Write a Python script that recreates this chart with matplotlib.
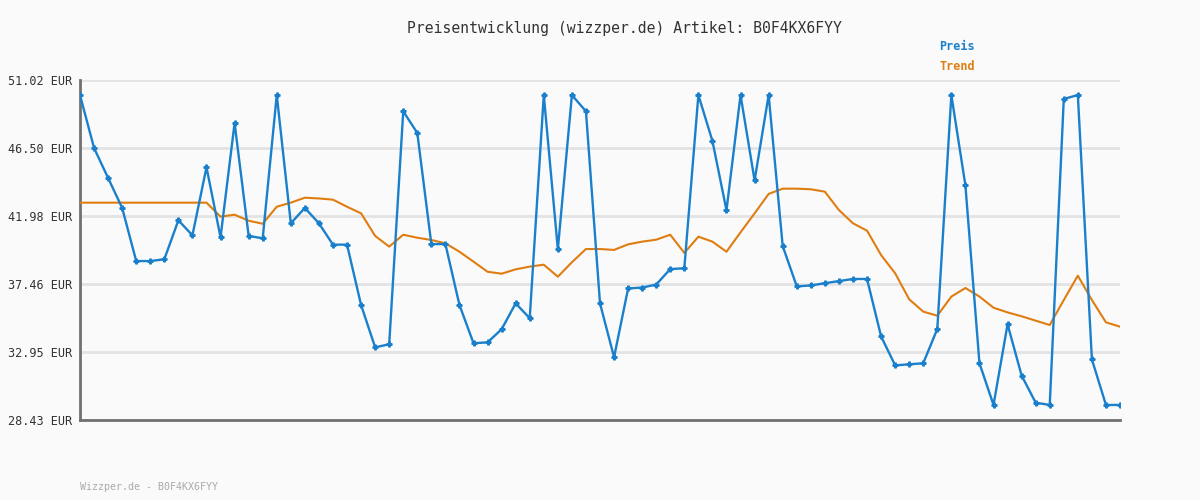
import matplotlib
matplotlib.use("Agg")
import matplotlib.pyplot as plt

# price values
preis = [50.02, 46.50, 44.51, 42.52, 38.99, 38.99, 39.11, 41.70, 40.70, 45.22,
         40.57, 48.16, 40.66, 40.50, 50.02, 41.50, 42.52, 41.50, 40.08, 40.08,
         36.07, 33.26, 33.46, 48.94, 47.50, 40.12, 40.12, 36.07, 33.53, 33.59,
         34.46, 36.18, 35.19, 50.02, 39.77, 50.02, 48.94, 36.18, 32.60, 37.17,
         37.23, 37.43, 38.46, 38.51, 50.02, 46.97, 42.36, 50.02, 44.35, 50.02,
         39.99, 37.31, 37.37, 37.52, 37.66, 37.80, 37.80, 33.99, 32.06, 32.13,
         32.20, 34.48, 50.02, 44.02, 32.20, 29.43, 34.79, 31.38, 29.58, 29.43,
         49.76, 50.02, 32.46, 29.43, 29.43]

trend = [42.87, 42.87, 42.87, 42.87, 42.87, 42.87, 42.87, 42.87, 42.87, 42.87,
         41.94, 42.07, 41.67, 41.47, 42.60, 42.87, 43.20, 43.15, 43.07, 42.60,
         42.16, 40.66, 39.95, 40.74, 40.54, 40.39, 40.17, 39.61, 38.95, 38.28,
         38.15, 38.44, 38.62, 38.75, 37.95, 38.91, 39.79, 39.79, 39.73, 40.10,
         40.28, 40.41, 40.74, 39.53, 40.61, 40.28, 39.61, 40.90, 42.16, 43.45,
         43.80, 43.80, 43.76, 43.60, 42.38, 41.50, 41.01, 39.39, 38.18, 36.45,
         35.63, 35.36, 36.63, 37.20, 36.63, 35.89, 35.58, 35.32, 35.03, 34.74,
         36.40, 38.02, 36.40, 34.92, 34.63]

yticks = [28.43, 32.95, 37.46, 41.98, 46.50, 51.02]
artikel = "B0F4KX6FYY"

blue = "#1a80cc"
orange = "#e07d10"
bg = "#fafafa"
mono = "DejaVu Sans Mono"

fig = plt.figure(figsize=(12, 5), dpi=100, facecolor=bg)
ax = fig.add_axes([80 / 1200, 80 / 500, 1040 / 1200, 340 / 500], facecolor=bg)

x = list(range(len(preis)))
ax.plot(x, trend, color=orange, lw=1.5, zorder=3)
ax.plot(x, preis, color=blue, lw=1.7, marker="P", ms=3.5, zorder=4)

ax.set_xlim(0, len(preis) - 1)
ax.set_ylim(yticks[0], yticks[-1])
ax.set_yticks(yticks)
ax.set_yticklabels([f"{v:.2f} EUR" for v in yticks], fontfamily=mono,
                   fontsize=8.5, color="#333333")
ax.set_xticks([])
ax.tick_params(axis="y", length=0, pad=6)
ax.grid(axis="y", color="#e3e3e3", lw=2, zorder=0)

for side in ["top", "right"]:
    ax.spines[side].set_visible(False)
for side in ["left", "bottom"]:
    ax.spines[side].set_color("#707070")
    ax.spines[side].set_linewidth(2)

fig.text(624 / 1200, 1 - 28 / 500, f"Preisentwicklung (wizzper.de) Artikel: {artikel}",
         ha="center", va="center", fontfamily=mono, fontsize=10.6, color="#333333")
fig.text(957 / 1200, 1 - 47 / 500, "Preis", ha="center", va="center",
         fontfamily=mono, fontsize=8.5, fontweight="bold", color=blue)
fig.text(957 / 1200, 1 - 67 / 500, "Trend", ha="center", va="center",
         fontfamily=mono, fontsize=8.5, fontweight="bold", color=orange)
fig.text(80 / 1200, 1 - 487 / 500, f"Wizzper.de - {artikel}", ha="left", va="center",
         fontfamily=mono, fontsize=7.2, color="#aaaaaa")

fig.savefig("out.png", dpi=100, facecolor=bg)
